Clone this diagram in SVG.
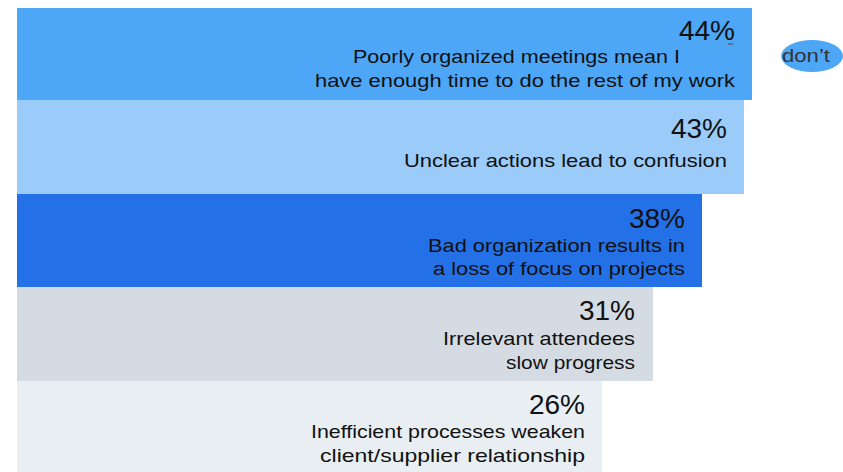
<svg xmlns="http://www.w3.org/2000/svg" width="843" height="472" viewBox="0 0 843 472">
<style>
.pct{font-family:"Liberation Sans",Arial,sans-serif;font-size:28px;fill:#111;text-anchor:end}
.lbl{font-family:"Liberation Sans",Arial,sans-serif;font-size:19px;fill:#111;text-anchor:end}
</style>
<rect width="843" height="472" fill="#ffffff"/>
<g id="bar1">
<rect x="17" y="8" width="735" height="92" fill="#4ea6f6"/>
<text class="pct" x="735" y="39.5">44%</text>
<line x1="728" y1="44" x2="733" y2="44" stroke="#555" stroke-width="1.2"/>
<text class="lbl" x="680" y="63" textLength="327" lengthAdjust="spacingAndGlyphs">Poorly organized meetings mean I</text>
<text class="lbl" x="735" y="87" textLength="420" lengthAdjust="spacingAndGlyphs">have enough time to do the rest of my work</text>
</g>
<g id="dont">
<ellipse cx="812" cy="56" rx="31" ry="16" fill="#4ea6f6"/>
<text x="782" y="62" font-family="'Liberation Sans',Arial,sans-serif" font-size="19" fill="#333" textLength="48" lengthAdjust="spacingAndGlyphs">don’t</text>
</g>
<g id="bar2">
<rect x="17" y="100" width="727" height="94" fill="#9acbf9"/>
<text class="pct" x="727" y="138">43%</text>
<text class="lbl" x="727" y="167" textLength="323" lengthAdjust="spacingAndGlyphs">Unclear actions lead to confusion</text>
</g>
<g id="bar3">
<rect x="17" y="194" width="685" height="93" fill="#2470e6"/>
<text class="pct" x="685" y="228">38%</text>
<text class="lbl" x="685" y="252" textLength="257" lengthAdjust="spacingAndGlyphs">Bad organization results in</text>
<text class="lbl" x="685" y="275" textLength="252" lengthAdjust="spacingAndGlyphs">a loss of focus on projects</text>
</g>
<g id="bar4">
<rect x="17" y="287" width="636" height="94" fill="#d4dbe3"/>
<text class="pct" x="635" y="320">31%</text>
<text class="lbl" x="635" y="345" textLength="192" lengthAdjust="spacingAndGlyphs">Irrelevant attendees</text>
<text class="lbl" x="635" y="369" textLength="129" lengthAdjust="spacingAndGlyphs">slow progress</text>
</g>
<g id="bar5">
<rect x="17" y="381" width="585" height="91" fill="#e8eef2"/>
<text class="pct" x="585" y="414">26%</text>
<text class="lbl" x="585" y="438" textLength="274" lengthAdjust="spacingAndGlyphs">Inefficient processes weaken</text>
<text class="lbl" x="585" y="462" textLength="265" lengthAdjust="spacingAndGlyphs">client/supplier relationship</text>
</g>
</svg>
